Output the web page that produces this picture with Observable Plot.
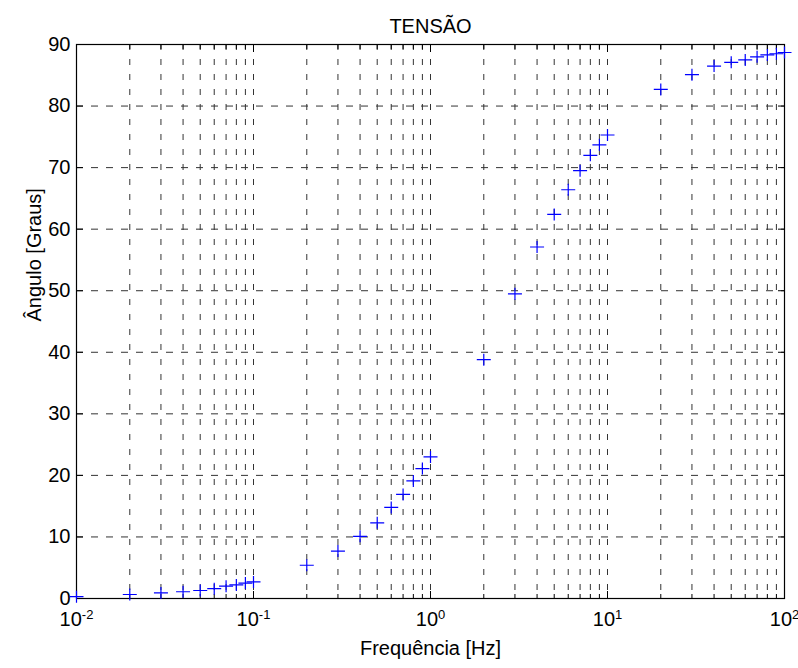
<!DOCTYPE html>
<html>
<head>
<meta charset="utf-8">
<script src="https://cdn.jsdelivr.net/npm/d3@7"></script>
<script src="https://cdn.jsdelivr.net/npm/@observablehq/plot@0.6"></script>
<style>
  body { margin: 0; background: #fff; }
  #chart svg { font-family: "Liberation Sans", Arial, sans-serif; }
</style>
</head>
<body>
<div id="chart"></div>
<script>
// Frequency (Hz) and phase angle (degrees)
const freqs = [0.01, 0.02, 0.03, 0.04, 0.05, 0.06, 0.07, 0.08, 0.09, 0.1,
               0.2, 0.3, 0.4, 0.5, 0.6, 0.7, 0.8, 0.9, 1,
               2, 3, 4, 5, 6, 7, 8, 9, 10,
               20, 30, 40, 50, 60, 70, 80, 90, 100];
const angles = [0.3, 0.65, 0.9, 1.1, 1.3, 1.6, 2.0, 2.2, 2.5, 2.7,
                5.4, 7.7, 10.1, 12.3, 14.8, 16.9, 19.1, 21.1, 23.0,
                38.8, 49.5, 57.1, 62.4, 66.4, 69.5, 72.0, 73.7, 75.3,
                82.7, 85.1, 86.5, 87.1, 87.5, 88.0, 88.3, 88.5, 88.7];

const yTicks = [0, 10, 20, 30, 40, 50, 60, 70, 80, 90];
const xMajor = [0.01, 0.1, 1, 10, 100];
const xMajorExp = ["-2", "-1", "0", "1", "2"];
const xGrid = [0.01, 0.02, 0.03, 0.04, 0.05, 0.06, 0.07, 0.08, 0.09,
               0.1, 0.2, 0.3, 0.4, 0.5, 0.6, 0.7, 0.8, 0.9,
               1, 2, 3, 4, 5, 6, 7, 8, 9,
               10, 20, 30, 40, 50, 60, 70, 80, 90, 100];
const xMinor = xGrid.filter(v => !xMajor.includes(v));

const titleText = "TENSÃO";
const xLabel = "Frequência [Hz]";
const yLabel = "Ângulo [Graus]";

const data = freqs.map((f, i) => ({f, a: angles[i]}));
const majorLabels = xMajor.map((v, i) => ({v, t: "10^" + xMajorExp[i]}));

// thin "+" marker like MATLAB
const plusSymbol = {
  draw(context, size) {
    const rx = 7, ry = 6;
    context.moveTo(-rx, 0); context.lineTo(rx, 0);
    context.moveTo(0, -ry); context.lineTo(0, ry);
  }
};

const chart = Plot.plot({
  width: 798,
  height: 668,
  marginTop: 44,
  marginRight: 14,
  marginBottom: 70,
  marginLeft: 76,
  style: {background: "#fff", color: "#000"},
  x: {type: "log", domain: [0.01, 100], axis: null},
  y: {domain: [0, 90], axis: null},
  marks: [
    // dashed grid
    Plot.ruleY(yTicks.filter(v => v > 0 && v < 90), {stroke: "#333", strokeDasharray: "7,8"}),
    Plot.ruleX(xGrid.filter(v => v > 0.01 && v < 100), {stroke: "#333", strokeDasharray: "6,9"}),
    // inward ticks on all four sides
    Plot.axisX(xMajor, {anchor: "bottom", tickSize: -7, tickFormat: () => "", label: null}),
    Plot.axisX(xMinor, {anchor: "bottom", tickSize: -4, tickFormat: () => "", label: null}),
    Plot.axisX(xMajor, {anchor: "top", tickSize: -7, tickFormat: () => "", label: null}),
    Plot.axisX(xMinor, {anchor: "top", tickSize: -4, tickFormat: () => "", label: null}),
    Plot.axisY(yTicks, {anchor: "left", tickSize: -7, tickPadding: 13, fontSize: 20, label: null}),
    Plot.axisY(yTicks, {anchor: "right", tickSize: -7, tickFormat: () => "", label: null}),
    Plot.frame({stroke: "#000", strokeWidth: 1.2}),
    // x tick labels 10^n
    Plot.text(majorLabels, {x: "v", text: "t", frameAnchor: "bottom", dy: 27, fontSize: 20}),
    // data
    Plot.dot(data, {x: "f", y: "a", symbol: plusSymbol, r: 7, stroke: "#0000ff", fill: "none", strokeWidth: 1.2}),
    // titles
    Plot.text([titleText], {frameAnchor: "top", dy: -26, fontSize: 20}),
    Plot.text([xLabel], {frameAnchor: "bottom", dy: 56, fontSize: 20}),
    Plot.text([yLabel], {frameAnchor: "left", dx: -42, rotate: -90, fontSize: 20})
  ]
});

// turn "10^n" into 10 with a superscript exponent
d3.select(chart).selectAll("text").each(function () {
  const s = this.textContent;
  const m = /^10\^(.+)$/.exec(s);
  if (m) {
    const t = d3.select(this);
    t.text("10");
    t.append("tspan").attr("dy", "-0.5em").attr("font-size", 13).text(m[1]);
  }
});

document.getElementById("chart").append(chart);
</script>
</body>
</html>
